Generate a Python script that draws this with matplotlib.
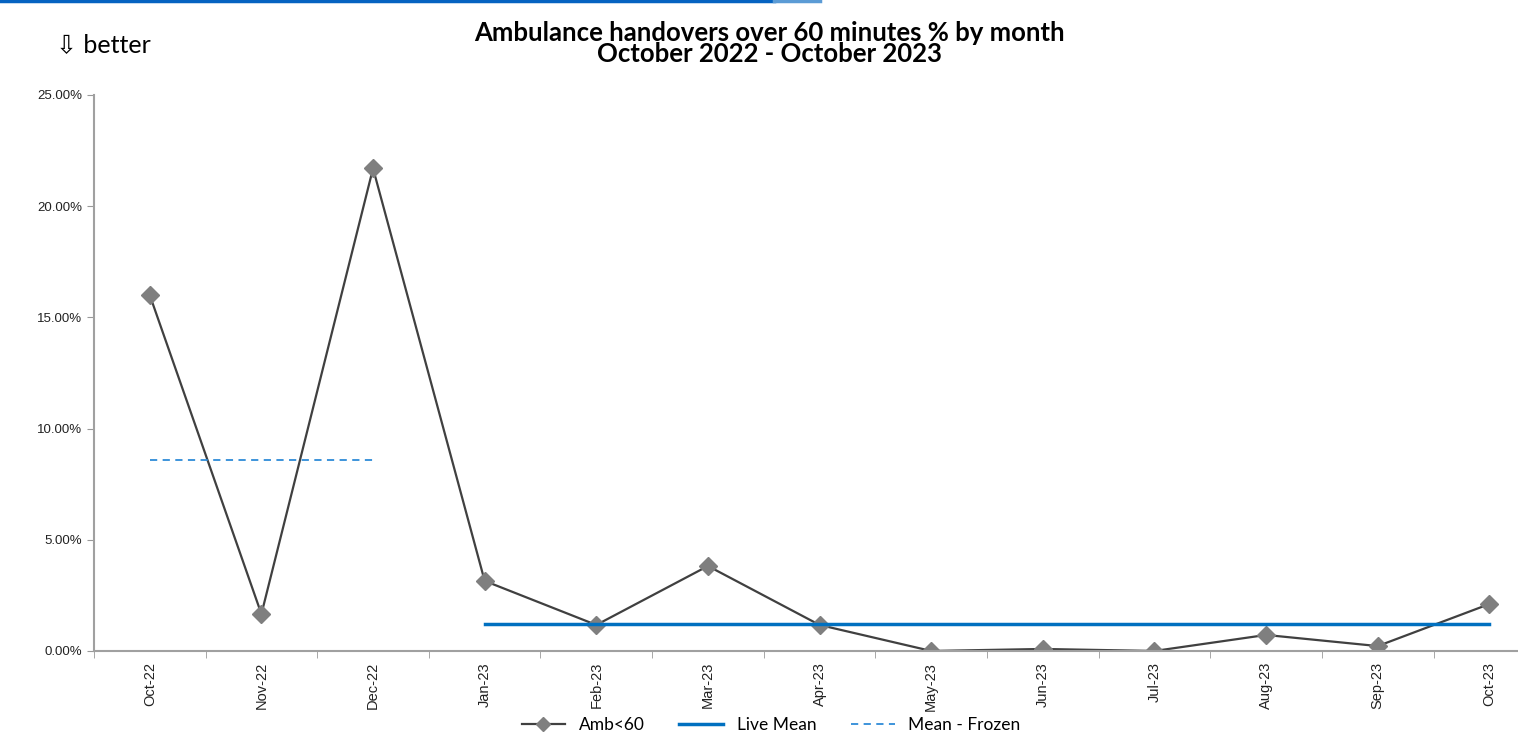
import matplotlib.pyplot as plt
import matplotlib.ticker as mtick
from matplotlib.lines import Line2D
import numpy as np

# months and values (%)
months = ['Oct-22', 'Nov-22', 'Dec-22', 'Jan-23', 'Feb-23', 'Mar-23', 'Apr-23',
          'May-23', 'Jun-23', 'Jul-23', 'Aug-23', 'Sep-23', 'Oct-23']
amb60 = [16.0, 1.66, 21.7, 3.15, 1.17, 3.82, 1.17, 0.0, 0.09, 0.0, 0.72, 0.22, 2.11]
live_mean = [None, None, None] + [1.21] * 10
frozen_mean = [8.59, 8.59, 8.59] + [None] * 10

x = np.arange(len(months))
live = np.array([np.nan if v is None else v for v in live_mean])
frozen = np.array([np.nan if v is None else v for v in frozen_mean])

fig = plt.figure(figsize=(15.18, 7.41), dpi=100)
ax = fig.add_axes([0.0619, 0.1215, 0.956, 0.7503])

ax.plot(x, amb60, color='#404040', lw=1.6, marker='D', markersize=9,
        markerfacecolor='#7f7f7f', markeredgecolor='#7f7f7f', label='Amb<60')
ax.plot(x, live, color='#0070C0', lw=2.5, label='Live Mean')
ax.plot(x, frozen, color='#2E8BD8', lw=1.3, ls=(0, (4, 3)), label='Mean - Frozen')

ax.set_xlim(-0.5, len(months) - 0.5)
ax.set_ylim(0, 25)
ax.set_yticks([0, 5, 10, 15, 20, 25])
ax.yaxis.set_major_formatter(mtick.FuncFormatter(lambda v, p: f'{v:.2f}%'))
ax.set_xticks(x)
ax.set_xticklabels(months, rotation=90, fontsize=10.5, family='Liberation Sans', color='#222222')
ax.set_xticks(np.arange(-0.5, len(months), 1), minor=True)
ax.tick_params(axis='x', which='major', length=0, pad=8)
ax.tick_params(axis='x', which='minor', length=5, color='#999999', direction='out')
ax.tick_params(axis='y', length=5, color='#999999', labelsize=9.5, labelcolor='#222222')
for lab in ax.get_yticklabels():
    lab.set_family('Liberation Sans')

for s in ['top', 'right']:
    ax.spines[s].set_visible(False)
for s in ['left', 'bottom']:
    ax.spines[s].set_color('#a0a0a0')
    ax.spines[s].set_linewidth(1.5)

fig.text(0.507, 0.941, 'Ambulance handovers over 60 minutes % by month\nOctober 2022 - October 2023',
         ha='center', va='center', fontsize=18.5, fontweight='bold', family='Lato', linespacing=0.86)
fig.text(0.037, 0.94, '\u21e9 better', ha='left', va='center', fontsize=18,
         family=['Lato', 'DejaVu Sans'])

fig.add_artist(Line2D([0, 0.51], [0.998, 0.998], color='#0563C1', lw=2.5))
fig.add_artist(Line2D([0.51, 0.54], [0.998, 0.998], color='#5b9bd5', lw=2.5))

fig.legend(loc='lower center', bbox_to_anchor=(0.508, -0.01), ncol=3, frameon=False,
           prop={'family': 'Lato', 'size': 12.5}, handlelength=2.5, columnspacing=2.0,
           markerscale=0.75)

fig.savefig('out.png', dpi=100)
